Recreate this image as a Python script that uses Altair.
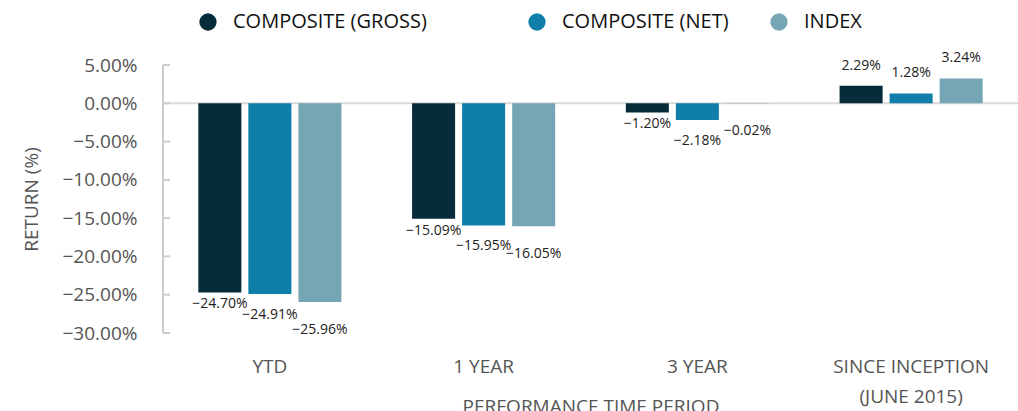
import altair as alt
import pandas as pd

FONT = "Open Sans"

periods = ["YTD", "1 YEAR", "3 YEAR", "SINCE INCEPTION (JUNE 2015)"]
series = ["COMPOSITE (GROSS)", "COMPOSITE (NET)", "INDEX"]
gross = [-24.70, -15.09, -1.20, 2.29]
net = [-24.91, -15.95, -2.18, 1.28]
index_vals = [-25.96, -16.05, -0.02, 3.24]
y_ticks = [5, 0, -5, -10, -15, -20, -25, -30]
colors = ["#062c3a", "#0f7ea9", "#75a6b5"]

rows = []
for s, vals in zip(series, [gross, net, index_vals]):
    for p, v in zip(periods, vals):
        rows.append({"period": p, "series": s, "value": v})
df = pd.DataFrame(rows)

W, H = 855, 268

x_axis = alt.Axis(
    title="PERFORMANCE TIME PERIOD", labelAngle=0, ticks=False, domain=False,
    labelPadding=24, labelFontSize=19, labelColor="#555555", labelFont=FONT,
    labelLineHeight=30,
    labelExpr="datum.label == 'SINCE INCEPTION (JUNE 2015)' ? ['SINCE INCEPTION', '(JUNE 2015)'] : datum.label",
    titleFontSize=19, titleFontWeight="normal", titleColor="#555555", titleFont=FONT,
    titleY=64,
)
x_scale = alt.Scale(domain=periods, paddingInner=0.3, paddingOuter=0.15)
off_scale = alt.Scale(domain=series, paddingInner=0.14, paddingOuter=0.065)
y_scale = alt.Scale(domain=[-30, 5], nice=False, zero=False)
y_axis = alt.Axis(
    values=y_ticks, labelExpr="format(datum.value, '.2f') + '%'",
    title="RETURN (%)", domain=False, ticks=False, grid=False,
    labelPadding=26, labelFontSize=19, labelColor="#555555", labelFont=FONT,
    titleFontSize=19, titleFontWeight="normal", titleColor="#555555", titleFont=FONT,
    titlePadding=20,
)

one = pd.DataFrame({"k": [0]})

zero_line = alt.Chart(one).mark_rule(color="#d9d9d9", strokeWidth=2).encode(
    x=alt.value(0), x2=alt.value(W), y=alt.Y(datum=0, scale=y_scale, axis=y_axis, title="RETURN (%)")
)
axis_line = alt.Chart(one).mark_rule(color="#cccccc", strokeWidth=2).encode(
    x=alt.value(0), y=alt.Y(datum=5, scale=y_scale, axis=y_axis, title="RETURN (%)"), y2=alt.datum(-30)
)
tick_df = pd.DataFrame({"value": y_ticks})
ticks = alt.Chart(tick_df).mark_rule(color="#cccccc", strokeWidth=2).encode(
    x=alt.value(0), x2=alt.value(7),
    y=alt.Y("value:Q", scale=y_scale, axis=y_axis, title="RETURN (%)"),
)

PADCH = "\u2800" * 4
bars = alt.Chart(df).mark_bar().encode(
    x=alt.X("period:N", sort=periods, scale=x_scale, axis=x_axis, title="PERFORMANCE TIME PERIOD"),
    xOffset=alt.XOffset("series:N", sort=series, scale=off_scale),
    y=alt.Y("value:Q", scale=y_scale, axis=y_axis, title="RETURN (%)"),
    y2=alt.datum(0),
    color=alt.Color(
        "series:N", scale=alt.Scale(domain=series, range=colors),
        legend=alt.Legend(
            title=None, orient="none", direction="horizontal", legendX=35, legendY=-53,
            symbolType="circle", symbolSize=300, symbolStrokeWidth=0, symbolOpacity=1,
            labelFontSize=20, labelFont=FONT, labelColor="#111111", labelOffset=15,
            columnPadding=40, labelLimit=600,
            labelExpr=f"datum.label == 'COMPOSITE (GROSS)' ? datum.label + '{PADCH}' : datum.label",
        ),
    ),
)

neg_dy = {"COMPOSITE (GROSS)": 12, "COMPOSITE (NET)": 21, "INDEX": 28}
text_layers = []
for s in series:
    for cond, dy in [("datum.value < 0", neg_dy[s]), ("datum.value >= 0", -20)]:
        t = alt.Chart(df).transform_filter(
            f"datum.series == '{s}' && {cond}"
        ).transform_calculate(
            lab="format(datum.value, '.2f') + '%'"
        ).mark_text(dy=dy, baseline="middle", fontSize=14, font=FONT, color="#222222").encode(
            x=alt.X("period:N", sort=periods, scale=x_scale, axis=x_axis, title="PERFORMANCE TIME PERIOD"),
            xOffset=alt.XOffset("series:N", sort=series, scale=off_scale),
            y=alt.Y("value:Q", scale=y_scale, axis=y_axis, title="RETURN (%)"),
            text="lab:N",
        )
        text_layers.append(t)

chart = alt.layer(zero_line, axis_line, ticks, bars, *text_layers).properties(
    width=W, height=H,
    autosize=alt.AutoSizeParams(type="none"),
    padding={"left": 163, "top": 65, "right": 0, "bottom": 78},
    background="white",
).configure_view(stroke=None)

chart.save("out.html", embed_options={"renderer": "svg", "actions": False})
